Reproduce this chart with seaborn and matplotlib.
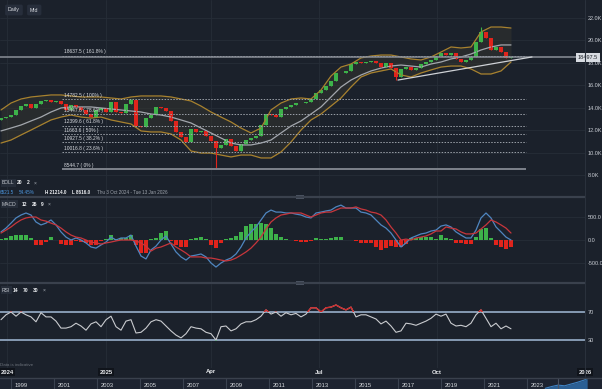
import numpy as np
import matplotlib
matplotlib.use("Agg")
import matplotlib.pyplot as plt
import matplotlib.transforms as mtrans
from matplotlib.patches import Rectangle
import seaborn as sns

# ---- values (one candle per ~3 trading days) ----
closes = [13080, 13170, 13350, 13800, 14150, 14330, 13980, 14330, 14600, 14690,
          14510, 14600, 14330, 13800, 14240, 14070, 13800, 13440, 13170, 13800,
          13980, 13620, 14510, 13620, 13530, 14330, 14690, 12370, 12280, 13080,
          13350, 14070, 13980, 13710, 12820, 11840, 11390, 10940, 12100, 11840,
          11930, 11480, 11030, 10410, 10680, 11210, 10590, 10140, 10770, 11120,
          11300, 11480, 12460, 13440, 13350, 13170, 13890, 14070, 14240, 14420,
          14420, 14510, 14780, 15310, 15580, 15940, 16390, 17100, 17100, 17280,
          17900, 18080, 17990, 18080, 18170, 17990, 17630, 17990, 17540, 16740,
          17460, 17630, 17370, 17540, 17900, 18080, 18260, 18620, 18880, 18700,
          18880, 18350, 18080, 18260, 18530, 19860, 20760, 20220, 19150, 19420,
          18970, 18440, 18497.5]
first_open = 12950
wick_low = {43: 8544.7, 79: 16470}
wick_high = {26: 14782.5, 96: 21214.0}

# Bollinger (20, 2) read every second candle
boll_upper = [13800, 14420, 14780, 14960, 15050, 15140, 15140, 15050, 14960, 14960,
              14960, 14870, 14780, 14960, 15050, 15050, 15050, 14960, 14780, 14600,
              14150, 13620, 13170, 12730, 12190, 11750, 12190, 13800, 14420, 14780,
              14870, 14780, 15580, 16830, 17630, 17900, 18440, 18615, 18700, 18700,
              18530, 18350, 18260, 18530, 18970, 19420, 19330, 19420, 20760, 21200,
              21200, 21110]
boll_mid = [11930, 12190, 12460, 12820, 13170, 13620, 13980, 14070, 14070, 14070,
            13980, 13890, 13800, 13710, 13620, 13440, 13350, 13170, 12910, 12640,
            12190, 11750, 11300, 10850, 10680, 10680, 10850, 11120, 11750, 12370,
            12820, 13440, 14070, 14960, 15850, 16470, 16920, 17280, 17540, 17720,
            17810, 17720, 17630, 17900, 18080, 18350, 18530, 18790, 19150, 19420,
            19600, 19600]
boll_lower = [10850, 11120, 11570, 12010, 12460, 12910, 13170, 13350, 13170, 13080,
              13170, 12910, 12730, 12550, 11930, 11840, 11840, 11660, 11120, 10140,
              9960, 9960, 9780, 9610, 9780, 9780, 9520, 9520, 10050, 10940,
              12010, 12910, 13440, 14150, 14870, 15850, 16740, 17100, 17280, 17460,
              16920, 16740, 17100, 17370, 17630, 17720, 17720, 17460, 17010, 17010,
              17280, 18080]

macd = [180, 265, 375, 490, 555, 600, 555, 400, 335, 375,
        445, 335, 180, 65, 0, 45, 0, -65, -155, -180,
        -110, -45, 65, 0, 45, 45, 110, -135, -355, -420,
        -220, -135, 0, 90, -90, -265, -375, -445, -355, -335,
        -310, -375, -510, -600, -510, -445, -400, -310, -155, 45,
        180, 290, 445, 600, 665, 620, 620, 600, 600, 575,
        555, 510, 490, 600, 620, 645, 665, 735, 775, 710,
        710, 710, 620, 600, 555, 445, 335, 265, 155, 0,
        -155, -65, 45, 90, 135, 155, 200, 220, 310, 335,
        290, 180, 110, 45, 45, 220, 490, 600, 490, 290,
        180, 65, 0]
signal = [155, 220, 290, 375, 445, 490, 510, 510, 445, 420,
          375, 335, 265, 180, 110, 65, 45, 0, -45, -65,
          -90, -65, -45, -20, 0, 0, 0, -20, -65, -135,
          -245, -180, -155, -110, -65, -155, -220, -290, -375, -375,
          -375, -400, -400, -420, -445, -465, -445, -400, -335, -265,
          -180, -65, 65, 245, 400, 490, 555, 575, 600, 600,
          600, 555, 510, 555, 600, 620, 620, 665, 710, 710,
          710, 735, 690, 665, 620, 600, 555, 445, 290, 155,
          0, 20, 0, 45, 65, 90, 135, 200, 200, 290,
          265, 245, 180, 135, 135, 155, 245, 335, 445, 400,
          335, 265, 155]

rsi = [59, 66, 70, 64, 70, 66, 63, 56, 69, 63,
       63, 57, 47, 47, 49, 54, 50, 44, 53, 56,
       49, 59, 64, 49, 44, 57, 59, 40, 41, 47,
       56, 59, 57, 50, 43, 37, 33, 39, 49, 47,
       46, 41, 39, 30, 49, 50, 43, 46, 53, 56,
       56, 59, 64, 73, 67, 70, 64, 69, 66, 68,
       63, 67, 76, 76, 70, 76, 77, 80, 76, 73,
       77, 63, 66, 66, 63, 60, 53, 57, 50, 41,
       43, 54, 53, 51, 54, 57, 61, 67, 64, 67,
       54, 50, 51, 49, 54, 66, 73, 61, 49, 54,
       46, 50, 46]

fib_levels = [8544.7, 10016.8, 10927.5, 11663.6, 12399.6, 13447.6, 14782.5, 18637.5]
fib_pct = ["0%", "23.6%", "38.2%", "50%", "61.8%", "78.6%", "100%", "161.8%"]
last_price = 18497.5
trend_idx = [79.4, 106.2]
trend_price = [16470, 18530]

date_labels = ["2024", "2025", "Apr", "Jul", "Oct", "2026"]
date_idx = [1.2, 21, 42, 63.6, 87.2, 116.8]

nav_years = [1999, 2001, 2003, 2005, 2007, 2009, 2011, 2013, 2015, 2017, 2019, 2021, 2023]
nav_hist_x = [2023.8, 2024.1, 2024.4, 2024.7, 2025.0, 2025.3, 2025.6, 2025.75]
nav_hist_y = [8000, 10500, 12500, 11500, 14000, 16500, 19500, 21500]

# ---- style ----
BG = "#1b212b"
GREEN = "#3db24a"
RED = "#e0241c"
GOLD = "#a8822f"
TXT = "#c8ccd3"

sns.set_theme(style="dark", rc={"axes.facecolor": BG, "figure.facecolor": BG})
plt.rcParams["font.family"] = ["Liberation Sans", "DejaVu Sans"]

W, H = 602, 389
fig = plt.figure(figsize=(W / 100, H / 100), dpi=100, facecolor=BG)


def panel(top, bottom):
    return [0, 1 - bottom / H, 585 / W, (bottom - top) / H]


ax = fig.add_axes(panel(0, 196))
ax_m = fig.add_axes(panel(197, 282))
ax_r = fig.add_axes(panel(284, 368))
ax_n = fig.add_axes([0, 0, 1, 11 / H])

idx = np.arange(len(closes))
band_idx = np.arange(0, 2 * len(boll_upper), 2)
opens = [first_open] + closes[:-1]

for a in (ax, ax_m, ax_r):
    a.set_facecolor(BG)
    a.set_xlim(-0.2, 116.8)
    for s in a.spines.values():
        s.set_visible(False)
    a.set_xticks(date_idx)
    a.tick_params(axis="x", length=0, labelbottom=False)
    a.yaxis.tick_right()
    a.tick_params(axis="y", length=0, pad=2, labelsize=4, labelcolor=TXT)
    a.grid(True, color="#262d38", linewidth=0.6)

# ---------------- price panel ----------------
ax.fill_between(band_idx, boll_lower, boll_upper, color="#34352f", alpha=0.55, linewidth=0)
sns.lineplot(x=band_idx, y=boll_upper, ax=ax, color=GOLD, linewidth=0.9)
sns.lineplot(x=band_idx, y=boll_lower, ax=ax, color=GOLD, linewidth=0.9)
sns.lineplot(x=band_idx, y=boll_mid, ax=ax, color="#a3a7ad", linewidth=0.9)

bottoms = [min(o, c) for o, c in zip(opens, closes)]
heights = [max(abs(c - o), 40) for o, c in zip(opens, closes)]
cols = [GREEN if c >= o else RED for o, c in zip(opens, closes)]
for i in idx:
    lo = wick_low.get(i, bottoms[i])
    hi = wick_high.get(i, bottoms[i] + heights[i])
    ax.vlines(i, lo, hi, color=cols[i], linewidth=0.8)
ax.bar(idx, heights, bottom=bottoms, width=0.7, color=cols, linewidth=0)

for lvl, pct in zip(fib_levels, fib_pct):
    if pct == "0%":
        ax.hlines(lvl, 12.2, 105, color="#7d828b", linewidth=1.4)
    else:
        ax.hlines(lvl, 12.2, 105, color="#9ca1a9", linewidth=0.7, linestyles=(0, (1.5, 1.5)))
    ax.text(12.5, lvl + 120, f"{lvl:.1f} ( {pct} )", fontsize=3.5, color="#d9dce1",
            va="bottom", ha="left")

ax.axhline(last_price, color="#8a8f98", linewidth=1.1)
sns.lineplot(x=trend_idx, y=trend_price, ax=ax, color="#cfd2d6", linewidth=0.9)

ax.set_ylim(6127, 23610)
ax.set_yticks(np.arange(8000, 22001, 2000))
ax.set_yticklabels([f"{v / 1000:.1f}K" for v in np.arange(8000, 22001, 2000)])
ax.set_ylabel("")
tr = mtrans.blended_transform_factory(ax.transAxes, ax.transData)
ax.text(578 / 585, last_price, "18497.5", transform=tr, fontsize=4, color="#1b1f26",
        va="center", ha="left", clip_on=False,
        bbox=dict(boxstyle="square,pad=0.35", fc="#d8dce2", ec="none"))

# ---------------- MACD panel ----------------
hist = np.array(macd) - np.array(signal)
ax_m.bar(idx, hist, width=0.75, color=[GREEN if h >= 0 else RED for h in hist], linewidth=0)
sns.lineplot(x=idx, y=macd, ax=ax_m, color="#4f86c0", linewidth=0.9)
sns.lineplot(x=idx, y=signal, ax=ax_m, color="#c8363c", linewidth=0.9)
ax_m.set_ylim(-932, 955)
ax_m.set_yticks([-500, 0, 500])
ax_m.set_yticklabels(["-500.0", "0.0", "500.0"])
ax_m.set_ylabel("")

# ---------------- RSI panel ----------------
ax_r.axhline(70, color="#8ea3bd", linewidth=1.3)
ax_r.axhline(30, color="#8ea3bd", linewidth=1.3)
sns.lineplot(x=idx, y=rsi, ax=ax_r, color="#c9cbcf", linewidth=0.8)
sns.lineplot(x=idx, y=rsi, ax=ax_r, color="#d02a2a", linewidth=1.0)
ax_r.lines[-1].set_clip_path(Rectangle((-1, 70), 200, 60, transform=ax_r.transData))
sns.lineplot(x=idx, y=rsi, ax=ax_r, color="#3cb043", linewidth=1.0)
ax_r.lines[-1].set_clip_path(Rectangle((-1, -20), 200, 50, transform=ax_r.transData))
ax_r.set_ylim(-10, 110)
ax_r.set_yticks([30, 70])
ax_r.set_yticklabels(["30", "70"])
ax_r.set_ylabel("")

dtr = mtrans.blended_transform_factory(ax_r.transData, fig.transFigure)
for lbl, pos in zip(date_labels, date_idx):
    boxed = lbl.isdigit()
    ax_r.text(pos, 1 - 372 / H, lbl, transform=dtr, fontsize=4.2, fontweight="bold",
              color="#e8eaed", ha="center", va="center", clip_on=False,
              bbox=dict(boxstyle="square,pad=0.3", fc="#10141b", ec="none") if boxed else None)

# ---------------- navigator ----------------
ax_n.set_facecolor("#1d2330")
ax_n.set_xlim(1998.44, 2026.44)
ax_n.set_ylim(7000, 22500)
ax_n.fill_between(nav_hist_x, 7000, nav_hist_y, color="#2b5f94", linewidth=0)
sns.lineplot(x=nav_hist_x, y=nav_hist_y, ax=ax_n, color="#3f83c4", linewidth=0.8)
ntr = mtrans.blended_transform_factory(ax_n.transData, ax_n.transAxes)
for yr in nav_years:
    ax_n.axvline(yr - 0.05, color="#3a4250", linewidth=0.8)
    ax_n.text(yr + 0.12, 0.55, str(yr), transform=ntr, fontsize=4.2, color="#d5d8dc",
              va="top", ha="left")
ax_n.axvline(2024.4, color="#4a5262", linewidth=0.8)
ax_n.set_xticks([])
ax_n.set_yticks([])
ax_n.set_ylabel("")
for s in ax_n.spines.values():
    s.set_visible(False)

# ---------------- separators, legends, buttons ----------------
def fy(y):
    return 1 - y / H


for y in (196.5, 283):
    fig.add_artist(plt.Line2D([0, 585 / W], [fy(y), fy(y)], color="#3a414d", linewidth=1.6))
    fig.add_artist(Rectangle((296 / W, fy(y + 2)), 8 / W, 4 / H, fc="#4b5362", ec="none"))
fig.add_artist(plt.Line2D([0, 1], [fy(377.5), fy(377.5)], color="#3a414d", linewidth=1.0))
fig.add_artist(plt.Line2D([585 / W, 585 / W], [fy(377), 1], color="#2a313c", linewidth=0.8))

btn = dict(boxstyle="round,pad=0.55,rounding_size=0.3", fc="#272e3b", ec="none")
fig.text(8 / W, fy(10), "Daily", fontsize=3.8, color="#d8dbe0", va="center", bbox=btn)
fig.text(30 / W, fy(10), "Mid", fontsize=3.8, color="#d8dbe0", va="center", bbox=btn)

tag = dict(boxstyle="square,pad=0.3", fc="#262d39", ec="none")


def legend_row(y, items, size=3.6):
    for x, s, col, bold, box in items:
        fig.text(x / W, fy(y), s, fontsize=size, color=col, va="center", ha="left",
                 fontweight="bold" if bold else "normal", bbox=tag if box else None)


legend_row(183, [(2, "BOLL", "#c3c7cd", False, True), (17, "20", "#eceef1", True, False),
                 (27, "2", "#eceef1", True, False), (34, "×", "#aab0b8", False, False)])
legend_row(193, [(0, "6521.5", "#4c95dc", False, False), (19, "54.45%", "#4c95dc", False, False),
                 (45, "H 21214.0", "#eceef1", True, False), (72, "L 8616.0", "#eceef1", True, False),
                 (97, "Thu 3 Oct 2024 - Tue 13 Jan 2026", "#9ea4ad", False, False)], size=3.3)
legend_row(204, [(2, "MACD", "#c3c7cd", False, True), (22, "12", "#eceef1", True, False),
                 (32, "26", "#eceef1", True, False), (41, "9", "#eceef1", True, False),
                 (48, "×", "#aab0b8", False, False)])
legend_row(290, [(2, "RSI", "#c3c7cd", False, True), (13, "14", "#eceef1", True, False),
                 (23, "70", "#eceef1", True, False), (33, "30", "#eceef1", True, False),
                 (43, "×", "#aab0b8", False, False)])
fig.text(0.5 / W, fy(365), "Data is indicative", fontsize=3.2, color="#6d737c", va="center")

fig.savefig("out.png", dpi=100, facecolor=BG)
